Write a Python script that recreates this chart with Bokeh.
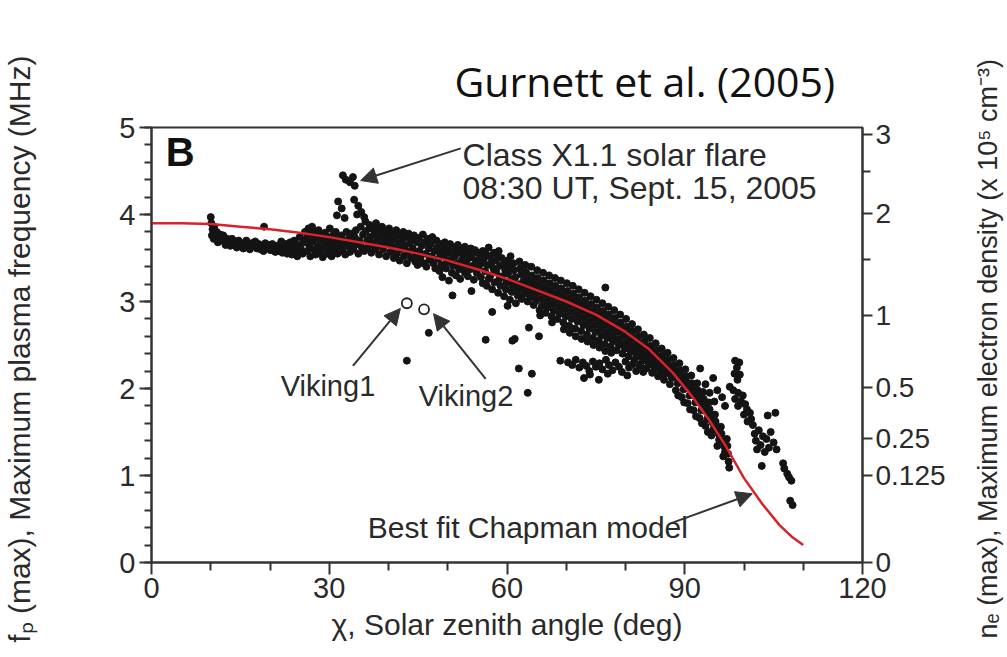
import numpy as np
from bokeh.plotting import figure
from bokeh.layouts import row
from bokeh.models import Range1d, LinearAxis, FixedTicker, Label, Arrow, NormalHead
from bokeh.embed import file_html
from bokeh.resources import INLINE

# ---------------- data ----------------
# Best-fit Chapman model curve
chap_chi = [0, 5, 10, 15, 20, 25, 30, 35, 40, 45, 50, 55, 60, 65, 70, 75, 80, 84, 88, 91, 94, 97, 100, 103, 106, 108, 110]
chap_fp = [3.90, 3.90, 3.89, 3.86, 3.83, 3.79, 3.74, 3.68, 3.62, 3.55, 3.47, 3.37, 3.26, 3.13, 3.00, 2.85, 2.65,
           2.45, 2.18, 1.93, 1.65, 1.33, 0.97, 0.68, 0.43, 0.30, 0.20]

# Main MARSIS band, 10-30 deg
band_a = [
    (10.0, 3.97), (10.1, 3.90), (10.3, 3.83), (10.2, 3.76), (10.5, 3.72), (10.6, 3.86), (10.8, 3.79),
    (11.0, 3.80), (11.3, 3.74), (11.2, 3.68), (11.6, 3.77), (11.8, 3.70),
    (12.1, 3.76), (12.3, 3.69), (12.5, 3.65), (12.8, 3.72),
    (13.0, 3.70), (13.3, 3.64), (13.6, 3.72), (13.8, 3.66),
    (14.1, 3.68), (14.4, 3.62), (14.7, 3.70), (14.9, 3.64),
    (15.2, 3.67), (15.5, 3.61), (15.8, 3.66),
    (16.0, 3.70), (16.3, 3.63), (16.6, 3.60), (16.9, 3.67),
    (17.2, 3.64), (17.5, 3.69), (17.8, 3.61),
    (18.1, 3.66), (18.4, 3.60), (18.7, 3.64), (18.9, 3.58),
    (19.0, 3.86), (19.2, 3.67), (19.5, 3.61), (19.8, 3.65),
    (20.1, 3.59), (20.4, 3.66), (20.7, 3.62), (20.9, 3.57),
    (21.2, 3.64), (21.5, 3.58), (21.8, 3.62), (21.9, 3.69),
    (22.1, 3.56), (22.4, 3.61), (22.7, 3.66), (22.9, 3.55),
    (23.2, 3.60), (23.4, 3.68), (23.7, 3.54), (23.9, 3.63),
    (24.1, 3.70), (24.3, 3.58), (24.6, 3.52), (24.8, 3.65),
    (25.0, 3.74), (25.2, 3.61), (25.5, 3.55), (25.7, 3.68), (25.9, 3.80),
    (26.1, 3.72), (26.3, 3.58), (26.5, 3.84), (26.6, 3.65), (26.8, 3.52), (26.9, 3.77),
    (27.1, 3.86), (27.2, 3.69), (27.4, 3.60), (27.6, 3.79), (27.7, 3.54), (27.9, 3.73),
    (28.1, 3.64), (28.2, 3.82), (28.4, 3.57), (28.6, 3.70), (28.8, 3.76), (28.9, 3.51),
    (29.1, 3.62), (29.3, 3.79), (29.4, 3.68), (29.6, 3.55), (29.8, 3.73), (29.9, 3.60),
]

# Main band, 30-55 deg
band_b = [
    (30.1, 3.84), (30.2, 3.66), (30.4, 3.52), (30.6, 3.76), (30.7, 3.59), (30.9, 3.70),
    (31.1, 3.80), (31.2, 3.63), (31.4, 3.55), (31.6, 3.72), (31.8, 3.66), (31.9, 3.58),
    (32.1, 3.76), (32.3, 3.61), (32.5, 3.69), (32.7, 3.54), (32.9, 3.80),
    (33.1, 3.64), (33.3, 3.72), (33.5, 3.57), (33.7, 3.78), (33.9, 3.67),
    (34.1, 3.60), (34.3, 3.74), (34.5, 3.82), (34.7, 3.66), (34.9, 3.55),
    (35.1, 3.70), (35.3, 3.86), (35.5, 3.62), (35.7, 3.77), (35.9, 3.58),
    (36.1, 3.92), (36.2, 3.81), (36.4, 3.70), (36.6, 3.63), (36.8, 3.88), (36.9, 3.74),
    (37.1, 3.56), (37.2, 3.84), (37.4, 3.67), (37.6, 3.78), (37.8, 3.60), (37.9, 3.90),
    (38.1, 3.72), (38.3, 3.83), (38.4, 3.54), (38.6, 3.65), (38.8, 3.77), (38.9, 3.86),
    (39.1, 3.60), (39.3, 3.70), (39.5, 3.81), (39.6, 3.52), (39.8, 3.66), (39.9, 3.75),
    (40.1, 3.84), (40.3, 3.57), (40.4, 3.69), (40.6, 3.78), (40.8, 3.62), (40.9, 3.50),
    (41.1, 3.73), (41.3, 3.82), (41.4, 3.55), (41.6, 3.66), (41.8, 3.76), (41.9, 3.47),
    (42.1, 3.60), (42.3, 3.70), (42.5, 3.80), (42.6, 3.52), (42.8, 3.64), (42.9, 3.74),
    (43.1, 3.44), (43.3, 3.57), (43.4, 3.78), (43.6, 3.67), (43.8, 3.50), (43.9, 3.72),
    (44.1, 3.61), (44.3, 3.76), (44.5, 3.46), (44.6, 3.54), (44.8, 3.68), (44.9, 3.42),
    (45.1, 3.73), (45.2, 3.58), (45.4, 3.50), (45.6, 3.64), (45.8, 3.77), (45.9, 3.44),
    (46.1, 3.68), (46.3, 3.55), (46.4, 3.40), (46.6, 3.72), (46.8, 3.61), (46.9, 3.48),
    (47.1, 3.66), (47.3, 3.52), (47.4, 3.74), (47.6, 3.44), (47.8, 3.58), (47.9, 3.38),
    (48.1, 3.70), (48.2, 3.62), (48.4, 3.49), (48.6, 3.35), (48.7, 3.56), (48.9, 3.66), (48.9, 3.42),
    (49.1, 3.28), (49.2, 3.60), (49.4, 3.52), (49.5, 3.68), (49.7, 3.38), (49.8, 3.45), (49.9, 3.63),
    (50.1, 3.56), (50.2, 3.24), (50.4, 3.66), (50.5, 3.48), (50.7, 3.33), (50.8, 3.59), (50.9, 3.41),
    (51.1, 3.62), (51.2, 3.52), (51.4, 3.30), (51.6, 3.44), (51.7, 3.65), (51.9, 3.37), (51.9, 3.56),
    (52.1, 3.26), (52.2, 3.60), (52.4, 3.48), (52.6, 3.40), (52.7, 3.54), (52.9, 3.33), (52.9, 3.63),
    (53.1, 3.44), (53.3, 3.58), (53.4, 3.29), (53.6, 3.50), (53.8, 3.37), (53.9, 3.61),
    (54.1, 3.54), (54.2, 3.41), (54.4, 3.25), (54.6, 3.59), (54.7, 3.47), (54.9, 3.33),
]

# Main band, 55-80 deg
band_c = [
    (55.1, 3.56), (55.2, 3.39), (55.4, 3.50), (55.6, 3.28), (55.7, 3.44), (55.9, 3.58), (55.9, 3.21),
    (56.1, 3.49), (56.3, 3.35), (56.4, 3.55), (56.6, 3.18), (56.7, 3.42), (56.9, 3.26), (56.9, 3.62),
    (57.1, 3.52), (57.2, 3.30), (57.4, 3.45), (57.5, 3.14), (57.7, 3.38), (57.8, 3.56), (57.9, 3.22),
    (58.1, 3.47), (58.2, 3.34), (58.4, 3.54), (58.5, 3.10), (58.7, 3.26), (58.8, 3.41), (58.9, 3.18), (58.6, 3.58),
    (59.1, 3.50), (59.2, 3.29), (59.4, 3.43), (59.5, 3.06), (59.7, 3.36), (59.8, 3.14), (59.9, 3.22),
    (60.1, 3.47), (60.2, 3.32), (60.4, 3.40), (60.5, 3.02), (60.7, 3.25), (60.8, 3.11), (60.9, 3.18), (60.6, 3.52),
    (61.1, 3.44), (61.2, 3.36), (61.4, 3.28), (61.5, 2.98), (61.7, 3.20), (61.8, 3.07), (61.9, 3.14),
    (62.1, 3.46), (62.2, 3.38), (62.4, 3.31), (62.5, 3.03), (62.7, 3.23), (62.8, 3.16), (62.9, 3.09),
    (63.1, 3.42), (63.2, 3.34), (63.4, 3.26), (63.5, 3.00), (63.7, 3.19), (63.8, 3.12), (63.9, 3.05),
    (64.1, 3.40), (64.2, 3.30), (64.4, 3.22), (64.5, 2.96), (64.7, 3.15), (64.8, 3.08), (64.9, 3.01),
    (65.1, 3.36), (65.2, 3.27), (65.4, 3.19), (65.5, 2.90), (65.7, 3.11), (65.8, 3.03), (65.9, 2.95), (65.6, 2.84),
    (66.1, 3.33), (66.2, 3.24), (66.4, 3.16), (66.5, 2.87), (66.7, 3.08), (66.8, 3.00), (66.9, 2.93),
    (67.1, 3.30), (67.2, 3.21), (67.4, 3.13), (67.5, 2.83), (67.7, 3.05), (67.8, 2.97), (67.9, 2.89), (67.6, 2.76),
    (68.1, 3.27), (68.2, 3.18), (68.4, 3.10), (68.5, 2.80), (68.7, 3.02), (68.8, 2.94), (68.9, 2.86),
    (69.1, 3.24), (69.2, 3.15), (69.4, 3.07), (69.5, 2.76), (69.7, 2.99), (69.8, 2.91), (69.9, 2.83), (69.6, 2.68),
    (70.1, 3.21), (70.2, 3.12), (70.4, 3.04), (70.5, 2.72), (70.7, 2.96), (70.8, 2.88), (70.9, 2.80), (70.6, 2.64),
    (71.1, 3.18), (71.2, 3.09), (71.4, 3.01), (71.5, 2.69), (71.7, 2.93), (71.8, 2.85), (71.9, 2.77), (71.6, 2.60),
    (72.1, 3.14), (72.2, 3.05), (72.4, 2.97), (72.5, 2.66), (72.7, 2.89), (72.8, 2.81), (72.9, 2.73), (72.6, 2.57),
    (73.1, 3.10), (73.2, 3.01), (73.4, 2.93), (73.5, 2.62), (73.7, 2.85), (73.8, 2.77), (73.9, 2.69), (73.6, 2.54),
    (74.1, 3.06), (74.2, 2.97), (74.4, 2.89), (74.5, 2.58), (74.7, 2.81), (74.8, 2.73), (74.9, 2.65), (74.6, 2.50),
    (75.1, 3.02), (75.2, 2.93), (75.4, 2.85), (75.5, 2.55), (75.7, 2.77), (75.8, 2.69), (75.9, 2.61), (75.6, 2.47),
    (76.1, 2.98), (76.2, 2.89), (76.4, 2.81), (76.5, 2.51), (76.7, 2.73), (76.8, 2.65), (76.9, 2.58), (76.6, 2.43),
    (77.1, 2.94), (77.2, 2.85), (77.4, 2.77), (77.5, 2.48), (77.7, 2.69), (77.8, 2.61), (77.9, 2.54), (77.6, 2.41),
    (78.1, 2.90), (78.2, 2.81), (78.4, 2.73), (78.5, 2.44), (78.7, 2.65), (78.8, 2.57), (78.9, 2.50),
    (79.1, 2.85), (79.2, 2.76), (79.4, 2.68), (79.5, 2.40), (79.7, 2.60), (79.8, 2.52), (79.9, 2.46),
]

# Main band, 80-98 deg
band_d = [
    (80.1, 2.80), (80.2, 2.71), (80.4, 2.63), (80.5, 2.37), (80.7, 2.55), (80.8, 2.48), (80.9, 2.42),
    (81.1, 2.74), (81.2, 2.66), (81.4, 2.58), (81.5, 2.33), (81.7, 2.50), (81.8, 2.43), (81.9, 2.37),
    (82.1, 2.68), (82.2, 2.60), (82.4, 2.52), (82.5, 2.28), (82.7, 2.45), (82.8, 2.38), (82.9, 2.32),
    (83.1, 2.62), (83.2, 2.54), (83.4, 2.47), (83.5, 2.23), (83.7, 2.40), (83.8, 2.33), (83.9, 2.27),
    (84.1, 2.58), (84.2, 2.49), (84.4, 2.42), (84.5, 2.18), (84.7, 2.35), (84.8, 2.28), (84.9, 2.22),
    (85.1, 2.52), (85.2, 2.44), (85.4, 2.37), (85.5, 2.14), (85.7, 2.30), (85.8, 2.23), (85.9, 2.17),
    (86.1, 2.46), (86.2, 2.38), (86.4, 2.31), (86.5, 2.10), (86.7, 2.24), (86.8, 2.17),
    (87.1, 2.41), (87.2, 2.33), (87.4, 2.26), (87.5, 2.05), (87.7, 2.19), (87.8, 2.12),
    (88.1, 2.35), (88.2, 2.27), (88.4, 2.20), (88.5, 1.98), (88.7, 2.13), (88.8, 2.06), (88.9, 1.92),
    (89.1, 2.29), (89.2, 2.21), (89.4, 2.14), (89.5, 1.90), (89.7, 2.07), (89.8, 1.99), (89.9, 1.84),
    (90.1, 2.22), (90.2, 2.14), (90.4, 2.07), (90.5, 1.83), (90.7, 2.00), (90.8, 1.92), (90.9, 1.76),
    (91.1, 2.15), (91.2, 2.06), (91.4, 1.99), (91.5, 1.75), (91.7, 1.92), (91.8, 1.84), (91.9, 1.68),
    (92.1, 2.06), (92.2, 1.98), (92.4, 1.90), (92.5, 1.66), (92.7, 1.83), (92.8, 1.75), (92.9, 1.60),
    (93.1, 1.96), (93.2, 1.88), (93.4, 1.80), (93.5, 1.57), (93.7, 1.73), (93.8, 1.65), (93.9, 1.50),
    (94.1, 1.84), (94.2, 1.76), (94.4, 1.68), (94.5, 1.46), (94.7, 1.61), (94.8, 1.53),
    (95.1, 1.70), (95.2, 1.62), (95.4, 1.55), (95.5, 1.34), (95.7, 1.48), (95.8, 1.41),
    (96.1, 1.56), (96.2, 1.48), (96.4, 1.40), (96.5, 1.22), (96.7, 1.33), (96.8, 1.27),
    (97.1, 1.42), (97.2, 1.34), (97.4, 1.16), (97.5, 1.09), (97.3, 1.25),
]

# Low-lying streak near 2.2-2.3 MHz
streak = [
    (69.0, 2.32), (70.3, 2.30), (71.0, 2.27), (71.6, 2.33), (72.2, 2.24), (72.8, 2.30), (73.4, 2.26),
    (73.9, 2.20), (74.5, 2.31), (75.0, 2.25), (75.6, 2.29), (76.1, 2.22), (76.7, 2.33), (77.2, 2.27),
    (77.8, 2.21), (78.3, 2.30), (78.9, 2.25), (79.4, 2.19), (80.0, 2.31), (80.6, 2.24), (81.2, 2.28),
    (81.8, 2.20), (82.4, 2.26), (83.0, 2.19), (74.0, 2.16), (77.0, 2.17), (80.3, 2.15), (73.0, 2.12),
    (75.5, 2.10),
]

# Points raised by the X1.1 solar flare
flare = [
    (32.3, 4.45), (32.8, 4.40), (33.5, 4.37), (34.0, 4.43), (34.3, 4.33), (31.5, 4.15), (32.1, 4.07),
    (31.3, 3.99), (32.6, 3.96), (34.2, 4.17), (34.9, 4.10), (35.4, 4.03), (35.9, 3.97), (34.7, 4.00),
]

# Isolated points below the band
outliers = [
    (43.1, 2.32), (46.8, 2.64), (50.8, 3.07), (56.4, 2.56), (60.1, 2.95), (60.9, 2.55), (61.3, 2.57),
    (62.0, 2.23), (63.5, 1.95), (63.7, 2.70), (64.2, 2.17), (65.4, 2.60), (76.6, 3.16), (54.0, 3.12),
    (57.5, 2.88), (92.6, 2.23),
]

# Cluster at large zenith angles (right of the model)
tail = [
    (98.5, 2.32), (99.2, 2.30), (98.8, 2.24), (98.4, 2.17), (99.3, 2.16), (98.9, 2.10),
    (97.6, 2.02), (98.2, 1.98), (99.0, 1.95), (99.8, 1.92), (98.5, 1.88), (99.5, 1.85), (100.2, 1.82),
    (99.0, 1.80), (100.5, 1.76), (101.0, 1.72), (100.0, 1.70), (101.2, 1.65), (100.6, 1.62), (101.5, 1.58),
    (93.5, 2.05), (94.8, 2.12), (95.5, 1.98), (96.3, 1.90), (95.0, 1.85), (96.8, 1.80), (94.2, 1.95),
    (104.0, 1.69), (105.3, 1.72), (101.8, 1.48), (102.5, 1.52), (103.2, 1.45), (102.0, 1.40), (103.8, 1.42),
    (104.5, 1.50), (105.0, 1.38), (102.8, 1.35), (104.2, 1.32), (103.5, 1.27), (105.5, 1.30), (102.2, 1.30),
    (103.0, 1.11), (106.6, 1.14), (107.3, 1.02), (108.0, 0.94), (107.8, 0.71), (108.2, 0.66), (106.8, 1.08),
    (107.6, 0.98),
]

# Viking 1 and Viking 2 measurements
viking_chi = [43.1, 46.0]
viking_fp = [2.98, 2.91]

# Axis ticks
x_ticks = [0, 30, 60, 90, 120]
x_minor = [10, 20, 40, 50, 70, 80, 100, 110]
y_ticks = [0, 1, 2, 3, 4, 5]
ne_labels = [0, 0.125, 0.25, 0.5, 1, 2, 3]      # x 10^5 cm^-3
ne_label_txt = ["0", "0.125", "0.25", "0.5", "1", "2", "3"]
ne_minor = [1.5, 2.5]

# ---------------- figure ----------------
TXT = "#2a2a2a"
FONT = "Liberation Sans"

p = figure(width=948, height=657, output_backend="svg", toolbar_location=None,
           x_range=Range1d(0, 120), y_range=Range1d(0, 5),
           min_border_left=150, min_border_right=86, min_border_top=127, min_border_bottom=95)
p.grid.visible = False
p.background_fill_color = "white"
p.border_fill_color = "white"
p.outline_line_color = "#333333"
p.outline_line_width = 2

# citation placed as the title, above the frame
p.title.text = "Gurnett et al. (2005)"
p.title.text_font = "Open Sans"
p.title.text_font_size = "41px"
p.title.text_font_style = "normal"
p.title.text_color = "#111111"
p.title.align = "left"
p.title.offset = 303
p.title.standoff = 38

pts = band_a + band_b + band_c + band_d + streak + flare + outliers + tail
p.scatter([c for c, f in pts], [f for c, f in pts], marker="circle", size=7,
          fill_color="#141414", line_color="#141414")
p.line(chap_chi, chap_fp, line_color="#d8232a", line_width=2.5)
p.scatter(viking_chi, viking_fp, marker="circle", size=10, fill_color="white",
          line_color="#222222", line_width=1.8)

# bottom axis
xa = p.xaxis[0]
xa.ticker = FixedTicker(ticks=x_ticks, minor_ticks=x_minor)
xa.axis_label = "χ, Solar zenith angle (deg)"
for ax in (p.xaxis[0], p.yaxis[0]):
    ax.axis_line_color = "#333333"
    ax.axis_line_width = 2
    ax.major_tick_line_color = "#333333"
    ax.major_tick_line_width = 2
    ax.minor_tick_line_color = "#333333"
    ax.minor_tick_line_width = 2
    ax.major_tick_in = 0
    ax.minor_tick_in = 0
    ax.major_label_text_font = FONT
    ax.major_label_text_font_size = "29px"
    ax.major_label_text_color = TXT
    ax.axis_label_text_font = FONT
    ax.axis_label_text_font_style = "normal"
    ax.axis_label_text_color = TXT
xa.axis_label_text_font_size = "30px"
xa.major_tick_out = 12
xa.minor_tick_out = 8
xa.major_label_standoff = 3
xa.axis_label_standoff = 7

ya = p.yaxis[0]
ya.ticker = FixedTicker(ticks=y_ticks, minor_ticks=list(np.round(np.arange(0, 5.01, 0.2), 2)))
ya.axis_label = "fₚ (max),  Maximum plasma frequency (MHz)"
ya.axis_label_text_font_size = "30px"
ya.major_tick_out = 12
ya.minor_tick_out = 7
ya.major_label_standoff = 4
ya.axis_label_standoff = 80

# right axis: electron density (fp[MHz] = 8.98e-3 * sqrt(ne[cm^-3]))
ne_fp = [round(0.00898 * np.sqrt(v * 1e5), 4) for v in ne_labels]
ne_minor_fp = [round(0.00898 * np.sqrt(v * 1e5), 4) for v in ne_minor]
p.extra_y_ranges = {"ne": Range1d(0, 5)}
ra = LinearAxis(y_range_name="ne", ticker=FixedTicker(ticks=ne_fp, minor_ticks=ne_minor_fp))
ra.major_label_overrides = {f: t for f, t in zip(ne_fp, ne_label_txt)}
ra.axis_line_color = "#333333"
ra.axis_line_width = 2
ra.major_tick_line_color = "#333333"
ra.major_tick_line_width = 2
ra.minor_tick_line_color = "#333333"
ra.minor_tick_line_width = 2
ra.major_tick_in = 0
ra.minor_tick_in = 0
ra.major_tick_out = 10
ra.minor_tick_out = 8
ra.major_label_standoff = 3
ra.major_label_text_font = FONT
ra.major_label_text_font_size = "28px"
ra.major_label_text_color = TXT
p.add_layout(ra, "right")

# annotations inside the frame
p.add_layout(Label(x=2.4, y=4.72, text="B", text_font=FONT, text_font_style="bold",
                   text_font_size="40px", text_color="#111111", text_baseline="middle"))
p.add_layout(Label(x=52.5, y=4.68, text="Class X1.1 solar flare", text_font=FONT,
                   text_font_size="32px", text_color=TXT, text_baseline="middle"))
p.add_layout(Label(x=52.5, y=4.31, text="08:30 UT,  Sept. 15, 2005", text_font=FONT,
                   text_font_size="32px", text_color=TXT, text_baseline="middle"))
p.add_layout(Label(x=21.8, y=2.03, text="Viking1", text_font=FONT,
                   text_font_size="29px", text_color=TXT, text_baseline="middle"))
p.add_layout(Label(x=45.1, y=1.91, text="Viking2", text_font=FONT,
                   text_font_size="29px", text_color=TXT, text_baseline="middle"))
p.add_layout(Label(x=36.5, y=0.40, text="Best fit Chapman model", text_font=FONT,
                   text_font_size="30px", text_color=TXT, text_baseline="middle"))

arrows = [
    (52.2, 4.76, 35.3, 4.39),
    (34.0, 2.26, 42.0, 2.92),
    (56.4, 2.11, 47.6, 2.86),
    (87.6, 0.45, 101.4, 0.79),
]
for xs, ys, xe, ye in arrows:
    p.add_layout(Arrow(x_start=xs, y_start=ys, x_end=xe, y_end=ye, line_color="#333333",
                       line_width=2, end=NormalHead(size=16, fill_color="#333333",
                                                    line_color="#333333")))

# right-hand title: a thin companion figure whose (left) axis label reads bottom-to-top
q = figure(width=57, height=657, output_backend="svg", toolbar_location=None,
           x_range=Range1d(0, 1), y_range=Range1d(0, 1), x_axis_location=None,
           min_border_left=56, min_border_right=0, min_border_top=127, min_border_bottom=95)
q.grid.visible = False
q.outline_line_color = None
q.background_fill_color = "white"
q.border_fill_color = "white"
qa = q.yaxis[0]
qa.ticker = FixedTicker(ticks=[])
qa.axis_line_color = None
qa.major_tick_out = 0
qa.major_tick_in = 0
qa.minor_tick_out = 0
qa.minor_tick_in = 0
qa.major_label_standoff = 0
qa.major_label_text_font_size = "0px"
qa.axis_label = "nₑ (max),  Maximum electron density (x 10⁵ cm⁻³)"
qa.axis_label_text_font = FONT
qa.axis_label_text_font_size = "27px"
qa.axis_label_text_font_style = "normal"
qa.axis_label_text_color = TXT
qa.axis_label_standoff = 2

open("out.html", "w").write(file_html(row(p, q), INLINE))
